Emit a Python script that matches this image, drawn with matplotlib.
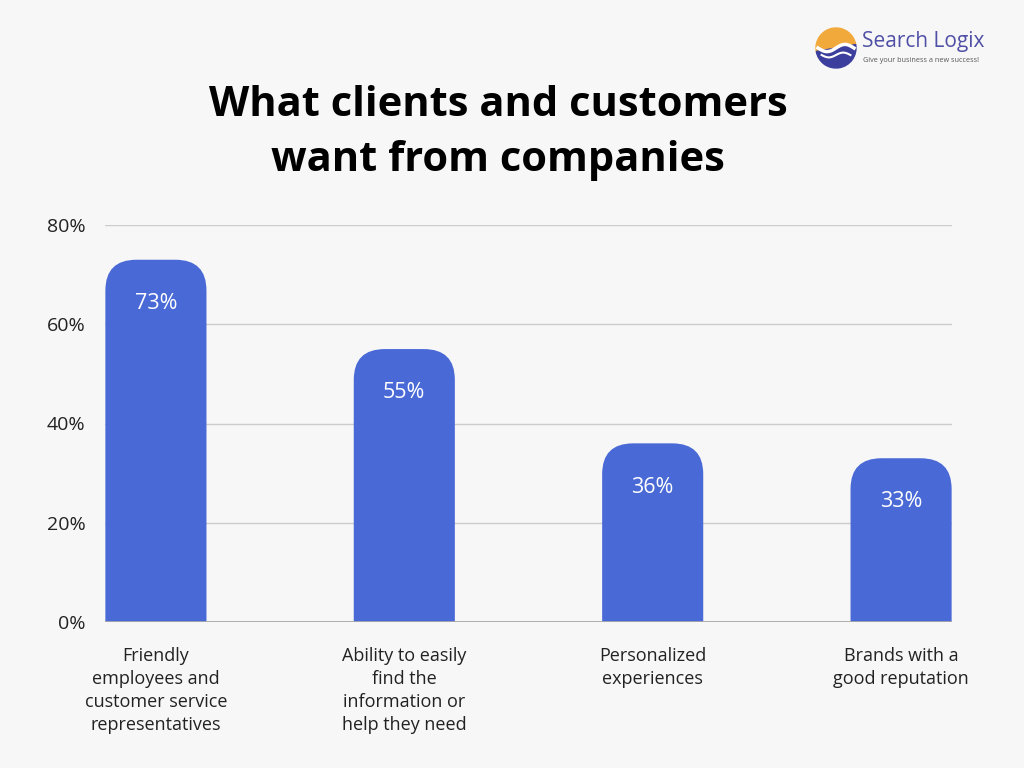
import numpy as np
import matplotlib.pyplot as plt
from matplotlib.path import Path
from matplotlib.patches import PathPatch, Wedge

# data
categories = [
    "Friendly\nemployees and\ncustomer service\nrepresentatives",
    "Ability to easily\nfind the\ninformation or\nhelp they need",
    "Personalized\nexperiences",
    "Brands with a\ngood reputation",
]
values = [73, 55, 36, 33]
yticks = [0, 20, 40, 60, 80]

bar_color = "#4969D6"
bg = "#F7F7F7"
plt.rcParams["font.family"] = ["Open Sans", "DejaVu Sans"]


def rounded_bar(ax, xc, width, height, rx, ry, color):
    # bar with rounded top corners, built in data coords
    x0, x1 = xc - width / 2, xc + width / 2
    ry = min(ry, height)
    verts = [
        (x0, 0), (x1, 0), (x1, height - ry),
        (x1, height), (x1 - rx, height),
        (x0 + rx, height),
        (x0, height), (x0, height - ry),
        (x0, 0),
    ]
    codes = [Path.MOVETO, Path.LINETO, Path.LINETO,
             Path.CURVE3, Path.CURVE3,
             Path.LINETO,
             Path.CURVE3, Path.CURVE3,
             Path.CLOSEPOLY]
    ax.add_patch(PathPatch(Path(verts, codes), facecolor=color, edgecolor="none", zorder=3))


fig = plt.figure(figsize=(10.24, 7.68), dpi=100, facecolor=bg)
ax = fig.add_axes([105 / 1024, 146 / 768, 847 / 1024, 397 / 768])
ax.set_facecolor(bg)

x = np.arange(len(values))
bw = 0.407
for xi, v in zip(x, values):
    rounded_bar(ax, xi, bw, v, 0.125, 6.2, bar_color)
    ax.text(xi, v - 8.8, f"{v}%", ha="center", va="center", color="white",
            fontsize=15.5, zorder=4)

ax.set_xlim(-0.205, 3.205)
ax.set_ylim(0, 80)
ax.set_yticks(yticks)
ax.set_yticklabels([f"{t}%" for t in yticks], fontsize=14, color="#222222")
ax.set_xticks(x)
ax.set_xticklabels(categories, fontsize=13, color="#222222", linespacing=1.35)
ax.tick_params(axis="both", length=0)
ax.tick_params(axis="y", pad=14)
ax.tick_params(axis="x", pad=18)
for t in yticks[1:]:
    ax.axhline(t, color="#CCCCCC", lw=1, zorder=1)
ax.axhline(0, color="#A8A8A8", lw=2, zorder=4)
for s in ax.spines.values():
    s.set_visible(False)

# title
fig.text(498 / 1024, 1 - 133 / 768, "What clients and customers\nwant from companies",
         ha="center", va="center", fontsize=30, fontweight="bold", color="black",
         linespacing=1.48)

# logo
lax = fig.add_axes([814 / 1024, 1 - 70 / 768, 44 / 1024, 44 / 768])
lax.set_aspect("equal")
lax.set_xlim(-1.1, 1.1); lax.set_ylim(-1.1, 1.1)
lax.axis("off")
lax.add_patch(Wedge((0, 0), 1.0, 10, 190, color="#F2A93B"))
lax.add_patch(Wedge((0, 0), 1.0, 190, 370, color="#3B3E9C"))
tt = np.linspace(-0.9, 0.9, 50)
lax.plot(tt, 0.18 * np.sin(tt * 3.5), color="white", lw=2.5)
lax.plot(tt * 0.8, -0.35 + 0.12 * np.sin(tt * 3.5), color="white", lw=1.5)
fig.text(862 / 1024, 1 - 42 / 768, "Search Logix", ha="left", va="center",
         fontsize=15, color="#4F4FA6")
fig.text(863 / 1024, 1 - 60 / 768, "Give your business a new success!", ha="left", va="center",
         fontsize=5.2, color="#555555")

fig.savefig("out.png", dpi=100, facecolor=bg)
